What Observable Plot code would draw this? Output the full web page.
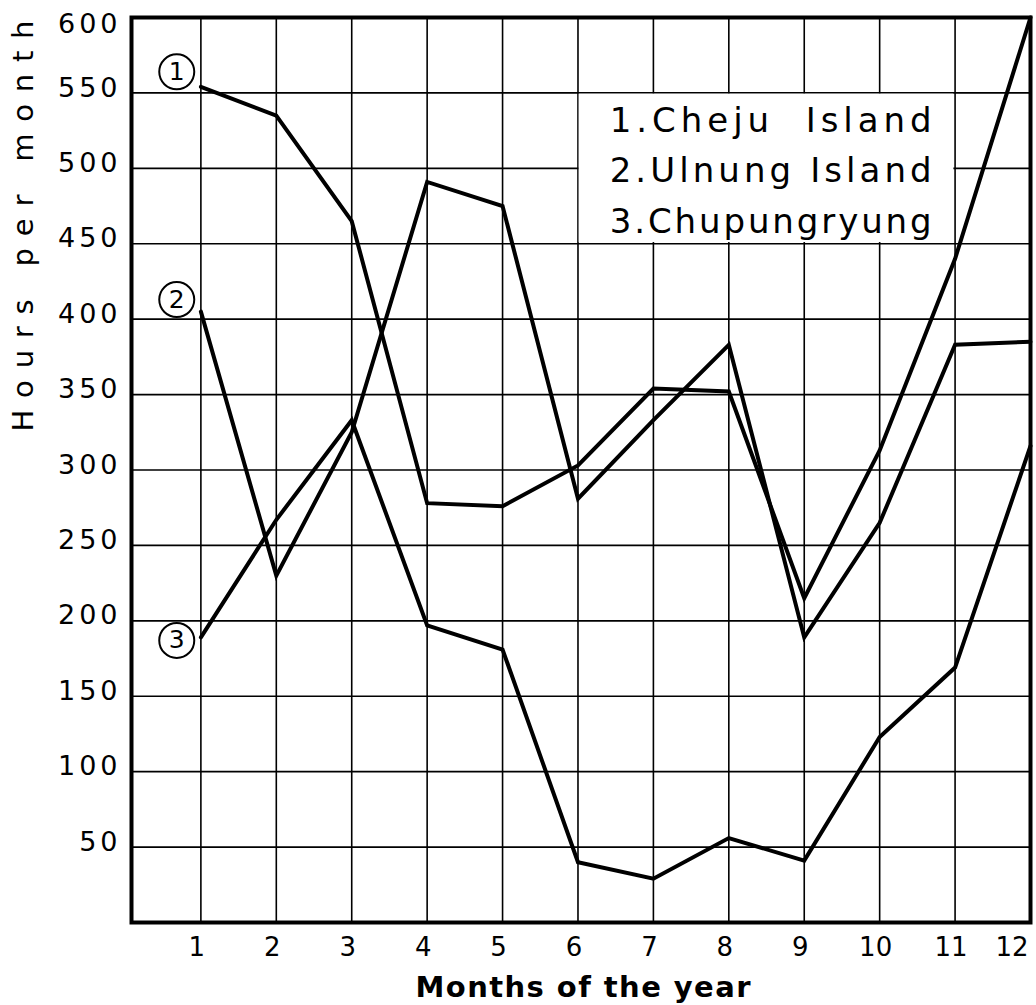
<!DOCTYPE html>
<html>
<head>
<meta charset="utf-8">
<script src="https://cdn.jsdelivr.net/npm/d3@7"></script>
<script src="https://cdn.jsdelivr.net/npm/@observablehq/plot@0.6"></script>
<style>
  body { margin: 0; background: #fff; }
  #chart svg { display: block; }
</style>
</head>
<body>
<div id="chart"></div>
<script>
// ---- data ----
const months = [1, 2, 3, 4, 5, 6, 7, 8, 9, 10, 11, 12];
const seriesNames = ["Cheju Island", "Ulnung Island", "Chupungryung"];
const chejuHours   = [554, 535, 465, 278, 276, 303, 354, 352, 215, 313, 440, 600];
const ulnungHours  = [405, 230, 325, 491, 475, 281, 333, 383, 189, 265, 383, 385];
const chupungHours = [189, 267, 333, 197, 181, 40, 29, 56, 41, 123, 169, 316];
const hourTicks = [50, 100, 150, 200, 250, 300, 350, 400, 450, 500, 550, 600];

// annotations
const circleLabels = ["1", "2", "3"];
const circleLabelMonth = 0.68;
const circleLabelHours = [564, 413, 187];
const legendLabels = ["1.Cheju  Island", "2.Ulnung Island", "3.Chupungryung"];
const legendMonth = 6.42;
const legendHours = [524, 491, 457];
const legendBoxMonths = [6, 11];
const legendBoxHours = [450, 550];

const yTitle = "Hours per month";
const xTitle = "Months of the year";

// ---- build tables ----
const rows = [];
[chejuHours, ulnungHours, chupungHours].forEach((vals, i) =>
  vals.forEach((h, j) => rows.push({series: seriesNames[i], month: months[j], hours: h}))
);
const circleRows = circleLabels.map((t, i) => ({label: t, month: circleLabelMonth, hours: circleLabelHours[i]}));
const legendRows = legendLabels.map((t, i) => ({label: t, month: legendMonth, hours: legendHours[i]}));
const boxRows = [{x1: legendBoxMonths[0], x2: legendBoxMonths[1], y1: legendBoxHours[0], y2: legendBoxHours[1]}];

const FONT = "DejaVu Sans";

const svg = Plot.plot({
  width: 1036,
  height: 1005,
  marginLeft: 131,
  marginRight: 6,
  marginTop: 17,
  marginBottom: 83,
  style: {fontFamily: FONT, color: "#000", background: "#fff", overflow: "visible"},
  x: {domain: [0.08, 12]},
  y: {domain: [0, 600]},
  marks: [
    Plot.ruleX(months, {stroke: "#000", strokeWidth: 1.6}),
    Plot.ruleY(hourTicks, {stroke: "#000", strokeWidth: 1.6}),
    Plot.rect(boxRows, {x1: "x1", x2: "x2", y1: "y1", y2: "y2", fill: "#fff", inset: 1.2}),
    Plot.line(rows, {x: "month", y: "hours", z: "series", stroke: "#000", strokeWidth: 4, strokeLinejoin: "miter", strokeMiterlimit: 3}),
    Plot.frame({stroke: "#000", strokeWidth: 4}),
    Plot.axisX(months, {tickSize: 0, tickPadding: 15, fontSize: 26, dx: -4, label: null}),
    Plot.axisY(hourTicks, {tickSize: 0, tickPadding: 10, fontSize: 27, dy: -5, label: null}),
    Plot.dot(circleRows, {x: "month", y: "hours", r: 17.5, stroke: "#000", strokeWidth: 2, fill: "#fff"}),
    Plot.text(circleRows, {x: "month", y: "hours", text: "label", fontSize: 25, lineAnchor: "middle", textAnchor: "middle", fill: "#000"}),
    Plot.text(legendRows, {x: "month", y: "hours", text: "label", fontSize: 34, textAnchor: "start", lineAnchor: "bottom", fill: "#000", ariaDescription: "legend-text"}),
    Plot.text([yTitle], {frameAnchor: "top-left", rotate: -90, textAnchor: "end", lineAnchor: "bottom", dx: -99, dy: 3, fontSize: 29, fill: "#000", ariaDescription: "y-title"}),
    Plot.text([xTitle], {frameAnchor: "bottom", lineAnchor: "bottom", dy: 74, dx: 2, fontSize: 29, fontWeight: "bold", fill: "#000", ariaDescription: "x-title"})
  ]
});

const s = d3.select(svg);
const yLabels = s.selectAll('g[aria-label="y-axis tick label"] text');
yLabels.style("letter-spacing", "4px");
yLabels.filter(function() { return this.textContent.trim() === "600"; }).attr("dy", "0.32em").attr("y", 12);
s.selectAll('g[aria-description="legend-text"] text').attr("textLength", 322).attr("lengthAdjust", "spacing");
s.selectAll('g[aria-description="y-title"] text').attr("textLength", 411).attr("lengthAdjust", "spacing");
s.selectAll('g[aria-description="x-title"] text').attr("textLength", 335).attr("lengthAdjust", "spacing");
const xt = s.selectAll('g[aria-label="x-axis tick label"] text').nodes();
if (xt.length) {
  const last = d3.select(xt[xt.length - 1]);
  last.attr("text-anchor", "end").attr("dx", 2);
}

document.getElementById("chart").appendChild(svg);
</script>
</body>
</html>
